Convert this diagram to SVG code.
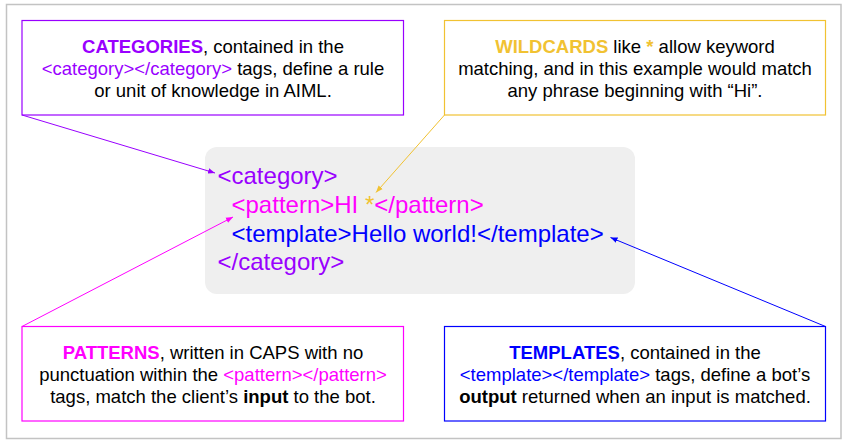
<svg xmlns="http://www.w3.org/2000/svg" width="848" height="444" viewBox="0 0 848 444">
<style>
text{font-family:"Liberation Sans",Arial,sans-serif}
.lbl{font-size:18.5px;fill:#000;text-anchor:middle}
.code{font-size:24px}
.b{font-weight:bold}
.pu{fill:#9900ff}.ye{fill:#f1c232}.ma{fill:#ff00ff}.bl{fill:#0000ff}
.box{fill:#fff;stroke-width:1.2}
.conn{fill:none;stroke-width:1}
</style>
<defs>
<marker id="ap" viewBox="0 0 10 10" refX="10" refY="5" markerWidth="7" markerHeight="7" orient="auto" markerUnits="userSpaceOnUse"><path d="M0,1 L10,5 L0,9 z" fill="#9900ff"/></marker>
<marker id="ay" viewBox="0 0 10 10" refX="10" refY="5" markerWidth="7" markerHeight="7" orient="auto" markerUnits="userSpaceOnUse"><path d="M0,1 L10,5 L0,9 z" fill="#f1c232"/></marker>
<marker id="am" viewBox="0 0 10 10" refX="10" refY="5" markerWidth="7" markerHeight="7" orient="auto" markerUnits="userSpaceOnUse"><path d="M0,1 L10,5 L0,9 z" fill="#ff00ff"/></marker>
<marker id="ab" viewBox="0 0 10 10" refX="10" refY="5" markerWidth="7" markerHeight="7" orient="auto" markerUnits="userSpaceOnUse"><path d="M0,1 L10,5 L0,9 z" fill="#0000ff"/></marker>
</defs>
<rect x="0" y="0" width="848" height="444" fill="#fff"/>
<rect x="6.5" y="4.5" width="834.5" height="434" fill="none" stroke="#c3c3c3" stroke-width="1.5"/>

<g id="code">
<rect x="205" y="147" width="430" height="147" rx="12" fill="#efefef"/>
<text class="code pu" x="217.5" y="184">&lt;category&gt;</text>
<text class="code ma" x="231.5" y="213">&lt;pattern&gt;HI <tspan class="ye">*</tspan>&lt;/pattern&gt;</text>
<text class="code bl" x="231.5" y="241.5">&lt;template&gt;Hello world!&lt;/template&gt;</text>
<text class="code pu" x="217.5" y="270">&lt;/category&gt;</text>
</g>

<g id="categories">
<rect class="box" x="22" y="20.5" width="381.5" height="94.5" stroke="#9900ff"/>
<text class="lbl" x="213" y="52.5"><tspan class="b pu">CATEGORIES</tspan>, contained in the</text>
<text class="lbl" x="213" y="74.5"><tspan class="pu">&lt;category&gt;&lt;/category&gt;</tspan> tags, define a rule</text>
<text class="lbl" x="213" y="96.5">or unit of knowledge in AIML.</text>
</g>

<g id="wildcards">
<rect class="box" x="444.5" y="20.5" width="381" height="94.5" stroke="#f1c232"/>
<text class="lbl" x="635" y="52.5"><tspan class="b ye">WILDCARDS</tspan> like <tspan class="b ye">*</tspan> allow keyword</text>
<text class="lbl" x="635" y="74.5">matching, and in this example would match</text>
<text class="lbl" x="635" y="96.5">any phrase beginning with “Hi”.</text>
</g>

<g id="patterns">
<rect class="box" x="22" y="326.5" width="381.5" height="94.5" stroke="#ff00ff"/>
<text class="lbl" x="213" y="358.5"><tspan class="b ma">PATTERNS</tspan>, written in CAPS with no</text>
<text class="lbl" x="213" y="381">punctuation within the <tspan class="ma">&lt;pattern&gt;&lt;/pattern&gt;</tspan></text>
<text class="lbl" x="213" y="403">tags, match the client’s <tspan class="b">input</tspan> to the bot.</text>
</g>

<g id="templates">
<rect class="box" x="444.5" y="326.5" width="381" height="94.5" stroke="#0000ff"/>
<text class="lbl" x="635" y="358.5"><tspan class="b bl">TEMPLATES</tspan>, contained in the</text>
<text class="lbl" x="635" y="381"><tspan class="bl">&lt;template&gt;&lt;/template&gt;</tspan> tags, define a bot’s</text>
<text class="lbl" x="635" y="403"><tspan class="b">output</tspan> returned when an input is matched.</text>
</g>

<g id="connectors">
<line class="conn" x1="22" y1="115" x2="215" y2="173" stroke="#9900ff" marker-end="url(#ap)"/>
<line class="conn" x1="444.5" y1="115" x2="376" y2="192.5" stroke="#f1c232" marker-end="url(#ay)"/>
<line class="conn" x1="22" y1="326.5" x2="233" y2="217" stroke="#ff00ff" marker-end="url(#am)"/>
<line class="conn" x1="825.5" y1="326.5" x2="610.5" y2="237.5" stroke="#0000ff" marker-end="url(#ab)"/>
</g>
</svg>
